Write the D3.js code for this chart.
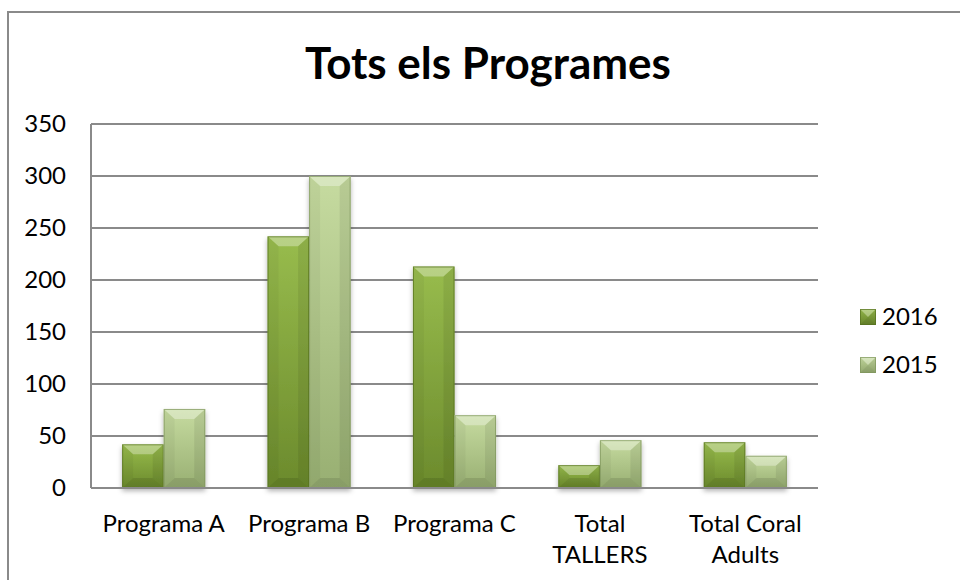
<!DOCTYPE html>
<html>
<head>
<meta charset="utf-8">
<script src="https://cdn.jsdelivr.net/npm/d3@7"></script>
<style>
  body { margin: 0; background: #fff; overflow: hidden; }
  svg { display: block; font-family: Lato, "Noto Sans", sans-serif; }
</style>
</head>
<body>
<div id="chart"></div>
<script>
// data
const categories = ["Programa A", "Programa B", "Programa C", "Total TALLERS", "Total Coral Adults"];
const categoryLines = [["Programa A"], ["Programa B"], ["Programa C"], ["Total", "TALLERS"], ["Total Coral", "Adults"]];
const seriesNames = ["2016", "2015"];
const values2016 = [42, 242, 213, 22, 44];
const values2015 = [76, 300, 70, 46, 31];
const yTicks = [0, 50, 100, 150, 200, 250, 300, 350];

const width = 960, height = 580;
const margin = { top: 124, right: 142, bottom: 92, left: 91 };
const innerWidth = width - margin.left - margin.right;
const innerHeight = height - margin.top - margin.bottom;

const colors = {
    "2016": { top: "#98bc4d", bottom: "#6b8a2c", edge: "#56701f" },
    "2015": { top: "#c6dba0", bottom: "#98af72", edge: "#7f955c" }
};

const svg = d3.select("#chart")
    .append("svg")
    .attr("width", width)
    .attr("height", height);

const defs = svg.append("defs");
seriesNames.forEach(name => {
    const grad = defs.append("linearGradient")
        .attr("id", "grad" + name)
        .attr("x1", 0).attr("y1", 0).attr("x2", 0).attr("y2", 1);
    grad.append("stop").attr("offset", "0%").attr("stop-color", colors[name].top);
    grad.append("stop").attr("offset", "100%").attr("stop-color", colors[name].bottom);
});
const shadow = defs.append("filter").attr("id", "shadow")
    .attr("x", "-20%").attr("y", "-20%").attr("width", "140%").attr("height", "140%");
shadow.append("feDropShadow")
    .attr("dx", 0).attr("dy", 3).attr("stdDeviation", 2.5)
    .attr("flood-color", "#000").attr("flood-opacity", 0.3);

// chart border: only left and top edges are inside the picture
svg.append("path")
    .attr("d", `M8,${height} V12 H${width}`)
    .attr("fill", "none")
    .attr("stroke", "#8a8a8a")
    .attr("stroke-width", 2);

// title
svg.append("text")
    .attr("x", 488)
    .attr("y", 79)
    .attr("text-anchor", "middle")
    .style("font-size", "44px")
    .style("font-weight", "bold")
    .text("Tots els Programes");

const g = svg.append("g")
    .attr("transform", `translate(${margin.left}, ${margin.top})`);

const x0 = d3.scaleBand()
    .domain(categories)
    .range([0, innerWidth]);

// Excel style: two bars plus a gap of 150% of a bar
const barW = x0.bandwidth() / 3.5;
const x1 = d3.scaleBand()
    .domain(seriesNames)
    .range([0, barW * 2]);

const y = d3.scaleLinear()
    .domain([0, 350])
    .range([innerHeight, 0]);

// gridlines
g.append("g")
    .selectAll("line")
    .data(yTicks)
    .enter()
    .append("line")
    .attr("x1", 0)
    .attr("x2", innerWidth)
    .attr("y1", d => y(d))
    .attr("y2", d => y(d))
    .attr("stroke", "#8a8a8a")
    .attr("stroke-width", 2);

// value axis line
g.append("line")
    .attr("x1", 0).attr("x2", 0)
    .attr("y1", 0).attr("y2", innerHeight)
    .attr("stroke", "#8a8a8a")
    .attr("stroke-width", 2);

// y tick labels
g.append("g")
    .selectAll("text")
    .data(yTicks)
    .enter()
    .append("text")
    .attr("x", -25)
    .attr("y", d => y(d))
    .attr("dy", "0.35em")
    .attr("text-anchor", "end")
    .style("font-size", "24px")
    .text(d => d);

// category labels
const catLabels = g.append("g")
    .selectAll("text")
    .data(categories)
    .enter()
    .append("text")
    .attr("x", d => x0(d) + x0.bandwidth() / 2)
    .attr("y", innerHeight + 44)
    .attr("text-anchor", "middle")
    .style("font-size", "24px");

catLabels.each(function(d, i) {
    const t = d3.select(this);
    categoryLines[i].forEach((line, j) => {
        t.append("tspan")
            .attr("x", x0(d) + x0.bandwidth() / 2)
            .attr("dy", j === 0 ? 0 : 31)
            .text(line);
    });
});

// bevelled bar, like the Excel 3D format
function drawBevelBar(parent, bx, by, bw, bh, name) {
    const t = Math.min(10, bh / 2);
    const s = Math.min(11, bw / 2);
    const bar = parent.append("g");
    bar.append("rect")
        .attr("x", bx).attr("y", by)
        .attr("width", bw).attr("height", bh)
        .attr("fill", `url(#grad${name})`);
    // top bevel
    bar.append("polygon")
        .attr("points", [[bx, by], [bx + bw, by], [bx + bw - s, by + t], [bx + s, by + t]].join(" "))
        .attr("fill", "#fff").attr("opacity", 0.32);
    // bottom bevel
    bar.append("polygon")
        .attr("points", [[bx, by + bh], [bx + bw, by + bh], [bx + bw - s, by + bh - t], [bx + s, by + bh - t]].join(" "))
        .attr("fill", "#000").attr("opacity", 0.1);
    // sides
    bar.append("polygon")
        .attr("points", [[bx, by], [bx + s, by + t], [bx + s, by + bh - t], [bx, by + bh]].join(" "))
        .attr("fill", "#000").attr("opacity", 0.04);
    bar.append("polygon")
        .attr("points", [[bx + bw, by], [bx + bw - s, by + t], [bx + bw - s, by + bh - t], [bx + bw, by + bh]].join(" "))
        .attr("fill", "#000").attr("opacity", 0.07);
    bar.append("rect")
        .attr("x", bx + 0.5).attr("y", by + 0.5)
        .attr("width", bw - 1).attr("height", Math.max(0, bh - 1))
        .attr("fill", "none")
        .attr("stroke", colors[name].edge)
        .attr("stroke-opacity", 0.7);
    return bar;
}

const seriesValues = { "2016": values2016, "2015": values2015 };
const bars = g.append("g").attr("filter", "url(#shadow)");
categories.forEach((cat, i) => {
    const left = x0(cat) + x0.bandwidth() / 2 - barW;
    seriesNames.forEach(name => {
        const v = seriesValues[name][i];
        drawBevelBar(bars, left + x1(name), y(v), x1.bandwidth(), y(0) - y(v), name);
    });
});

// axis line on top of the bars' shadow
g.append("line")
    .attr("x1", 0).attr("x2", innerWidth)
    .attr("y1", innerHeight).attr("y2", innerHeight)
    .attr("stroke", "#8a8a8a")
    .attr("stroke-width", 2);

// legend
const legend = svg.append("g")
    .attr("transform", "translate(860, 309)");

seriesNames.forEach((name, i) => {
    const item = legend.append("g")
        .attr("transform", `translate(0, ${i * 48})`);
    drawBevelBar(item, 0, 0, 16, 16, name);
    item.append("text")
        .attr("x", 22)
        .attr("y", 16)
        .style("font-size", "24px")
        .text(name);
});
</script>
</body>
</html>
